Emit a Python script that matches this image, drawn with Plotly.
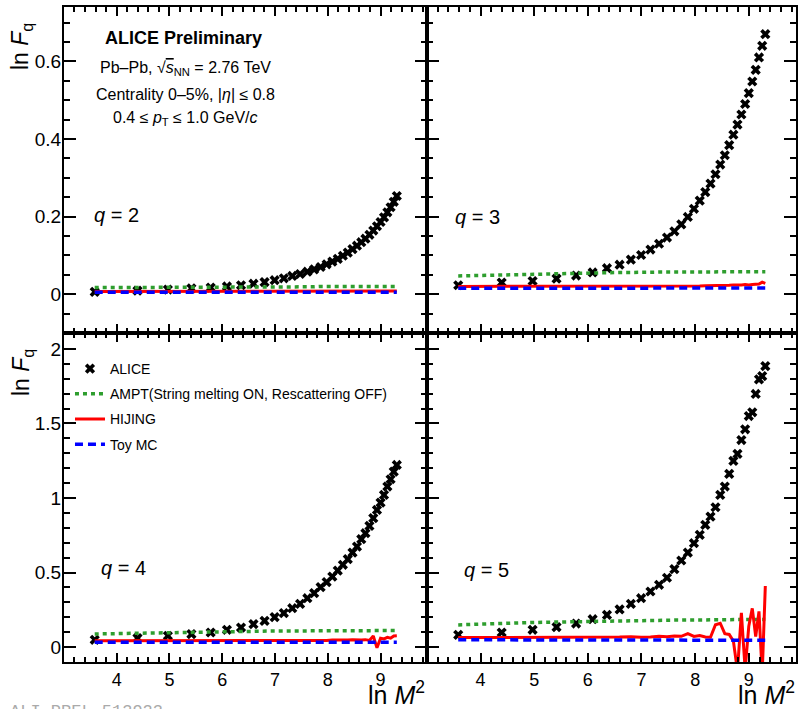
import plotly.graph_objects as go

# ---------------- data ----------------
lnM2 = [3.584, 4.394, 4.970, 5.416, 5.781, 6.089, 6.356, 6.592, 6.802, 6.993,
        7.167, 7.327, 7.475, 7.613, 7.742, 7.864, 7.978, 8.086, 8.189, 8.286,
        8.379, 8.468, 8.553, 8.635, 8.713, 8.789, 8.862, 8.932, 9.000, 9.065,
        9.129, 9.190, 9.250, 9.308]

alice_q2 = [0.006, 0.009, 0.012, 0.015, 0.017, 0.020, 0.023, 0.027, 0.031, 0.036,
            0.041, 0.047, 0.052, 0.058, 0.064, 0.070, 0.077, 0.084, 0.091, 0.099,
            0.107, 0.116, 0.125, 0.134, 0.143, 0.153, 0.164, 0.175, 0.186, 0.198,
            0.211, 0.224, 0.238, 0.253]
alice_q3 = [0.023, 0.030, 0.034, 0.040, 0.048, 0.056, 0.067, 0.076, 0.089, 0.101,
            0.115, 0.130, 0.146, 0.162, 0.180, 0.199, 0.220, 0.241, 0.263, 0.285,
            0.309, 0.334, 0.358, 0.384, 0.411, 0.437, 0.463, 0.490, 0.518, 0.548,
            0.578, 0.610, 0.640, 0.670]
alice_q4 = [0.049, 0.060, 0.076, 0.087, 0.098, 0.116, 0.131, 0.154, 0.176, 0.201,
            0.228, 0.261, 0.290, 0.328, 0.362, 0.402, 0.436, 0.473, 0.513, 0.552,
            0.590, 0.634, 0.674, 0.724, 0.764, 0.813, 0.865, 0.920, 0.969, 1.021,
            1.077, 1.126, 1.177, 1.222]
alice_q5 = [0.082, 0.098, 0.116, 0.134, 0.158, 0.187, 0.216, 0.253, 0.290, 0.328,
            0.373, 0.418, 0.465, 0.523, 0.581, 0.634, 0.697, 0.753, 0.820, 0.875,
            0.938, 1.021, 1.077, 1.162, 1.249, 1.296, 1.389, 1.461, 1.550, 1.575,
            1.698, 1.796, 1.818, 1.885]

ampt_q2 = [0.017, 0.017, 0.018, 0.018, 0.018, 0.018, 0.019, 0.019, 0.019, 0.019,
           0.019, 0.019, 0.019, 0.019, 0.019, 0.020, 0.020, 0.020, 0.020, 0.020,
           0.020, 0.020, 0.020, 0.020, 0.020, 0.020, 0.020, 0.020, 0.020, 0.020,
           0.020, 0.020, 0.020, 0.020]
ampt_q3 = [0.047, 0.050, 0.052, 0.053, 0.054, 0.055, 0.055, 0.056, 0.056, 0.057,
           0.057, 0.057, 0.057, 0.057, 0.057, 0.057, 0.057, 0.057, 0.057, 0.057,
           0.057, 0.057, 0.057, 0.057, 0.057, 0.057, 0.057, 0.057, 0.058, 0.058,
           0.058, 0.058, 0.058, 0.058]
ampt_q4 = [0.088, 0.094, 0.097, 0.100, 0.102, 0.104, 0.105, 0.106, 0.107, 0.108,
           0.108, 0.109, 0.109, 0.109, 0.110, 0.110, 0.110, 0.110, 0.110, 0.110,
           0.110, 0.110, 0.110, 0.110, 0.111, 0.111, 0.111, 0.111, 0.111, 0.111,
           0.111, 0.111, 0.111, 0.111]
ampt_q5 = [0.149, 0.160, 0.165, 0.168, 0.171, 0.173, 0.175, 0.176, 0.177, 0.178,
           0.179, 0.180, 0.180, 0.181, 0.181, 0.182, 0.182, 0.182, 0.183, 0.183,
           0.183, 0.184, 0.184, 0.184, 0.184, 0.185, 0.185, 0.185, 0.185, 0.186,
           0.186, 0.186, 0.186, 0.186]

hijing_q2 = [0.007, 0.007, 0.007, 0.007, 0.007, 0.007, 0.007, 0.007, 0.007, 0.007,
             0.007, 0.007, 0.007, 0.007, 0.007, 0.007, 0.007, 0.007, 0.007, 0.007,
             0.007, 0.007, 0.007, 0.007, 0.007, 0.007, 0.007, 0.007, 0.007, 0.008,
             0.008, 0.008, 0.008, 0.008]
hijing_q3 = [0.020, 0.020, 0.020, 0.020, 0.020, 0.020, 0.020, 0.020, 0.020, 0.020,
             0.020, 0.020, 0.020, 0.020, 0.021, 0.021, 0.021, 0.021, 0.022, 0.022,
             0.022, 0.023, 0.022, 0.023, 0.024, 0.023, 0.024, 0.025, 0.024, 0.025,
             0.025, 0.026, 0.031, 0.028]
hijing_q4 = [0.042, 0.042, 0.042, 0.042, 0.042, 0.042, 0.042, 0.042, 0.043, 0.042,
             0.043, 0.043, 0.043, 0.044, 0.043, 0.044, 0.045, 0.048, 0.046, 0.045,
             0.047, 0.049, 0.046, 0.048, 0.050, 0.045, 0.075, -0.005, 0.060, 0.055,
             0.065, 0.060, 0.075, 0.076]
hijing_q5 = [0.064, 0.064, 0.064, 0.065, 0.065, 0.066, 0.066, 0.067, 0.070, 0.066,
             0.068, 0.072, 0.070, 0.074, 0.072, 0.090, 0.072, 0.078, 0.068, 0.066,
             0.150, 0.160, 0.090, 0.085, 0.040, -0.160, 0.230, -0.150, 0.140, 0.260,
             0.070, 0.240, -0.180, 0.410]

toymc_q2 = [0.005] * 34
toymc_q3 = [0.015, 0.015, 0.015, 0.015, 0.015, 0.015, 0.015, 0.015, 0.015, 0.015,
            0.015, 0.015, 0.015, 0.015, 0.015, 0.015, 0.015, 0.015, 0.015, 0.015,
            0.015, 0.015, 0.015, 0.015, 0.015, 0.015, 0.015, 0.015, 0.016, 0.016,
            0.016, 0.016, 0.016, 0.016]
toymc_q4 = [0.033] * 34
toymc_q5 = [0.049, 0.049, 0.049, 0.049, 0.049, 0.049, 0.049, 0.049, 0.049, 0.049,
            0.049, 0.049, 0.049, 0.049, 0.049, 0.049, 0.049, 0.049, 0.049, 0.049,
            0.049, 0.049, 0.049, 0.048, 0.048, 0.048, 0.048, 0.047, 0.047, 0.047,
            0.046, 0.046, 0.046, 0.046]

series_names = ["ALICE", "AMPT(String melting ON, Rescattering OFF)", "HIJING", "Toy MC"]
q_labels = ["<i>q</i> = 2", "<i>q</i> = 3", "<i>q</i> = 4", "<i>q</i> = 5"]

# ---------------- layout geometry ----------------
W, H = 801, 709
ML, MR, MT, MB = 64, 3, 7, 47
PW = W - ML - MR
PH = H - MT - MB
XSPLIT = 428
YSPLIT = 333


def px2x(px):
    return (px - ML) / PW


def py2y(py):
    return (H - MB - py) / PH


xd_left = [0, px2x(XSPLIT)]
xd_right = [px2x(XSPLIT), 1]
yd_top = [py2y(YSPLIT), 1]
yd_bot = [0, py2y(YSPLIT)]

FONT = "Liberation Sans, Arial, Helvetica, sans-serif"
GREEN = "#2e9e2e"
RED = "#ff0000"
BLUE = "#0000ff"

fig = go.Figure()

panels = [
    (alice_q2, ampt_q2, hijing_q2, toymc_q2),
    (alice_q3, ampt_q3, hijing_q3, toymc_q3),
    (alice_q4, ampt_q4, hijing_q4, toymc_q4),
    (alice_q5, ampt_q5, hijing_q5, toymc_q5),
]

for i, (a, am, hj, tm) in enumerate(panels):
    xa = "x" if i == 0 else f"x{i+1}"
    ya = "y" if i == 0 else f"y{i+1}"
    show = (i == 0)
    fig.add_trace(go.Scatter(x=lnM2, y=a, mode="markers", name=series_names[0],
                             legendgroup="g1", showlegend=show,
                             marker=dict(symbol="x", size=9, color="black",
                                         line=dict(width=0)),
                             xaxis=xa, yaxis=ya))
    fig.add_trace(go.Scatter(x=lnM2, y=am, mode="lines", name=series_names[1],
                             legendgroup="g2", showlegend=show,
                             line=dict(color=GREEN, width=3.5, dash="4px,4px"),
                             xaxis=xa, yaxis=ya))
    fig.add_trace(go.Scatter(x=lnM2, y=hj, mode="lines", name=series_names[2],
                             legendgroup="g3", showlegend=show,
                             line=dict(color=RED, width=3),
                             xaxis=xa, yaxis=ya))
    fig.add_trace(go.Scatter(x=lnM2, y=tm, mode="lines", name=series_names[3],
                             legendgroup="g4", showlegend=show,
                             line=dict(color=BLUE, width=3.5, dash="8px,5px"),
                             xaxis=xa, yaxis=ya))

xcommon = dict(range=[3.002, 9.88], dtick=1, tick0=0, ticks="inside", ticklen=9,
               tickwidth=2, tickcolor="black", showline=True, linewidth=2,
               linecolor="black", mirror="ticks", showgrid=False, zeroline=False,
               minor=dict(ticks="inside", dtick=0.2, ticklen=5, tickwidth=1.5,
                          tickcolor="black", showgrid=False),
               tickfont=dict(family=FONT, size=18, color="black"))
ytop = dict(range=[-0.1, 0.74], dtick=0.2, tick0=0, minor=dict(ticks="inside", dtick=0.05,
            ticklen=6, tickwidth=1.5, tickcolor="black", showgrid=False))
ybot = dict(range=[-0.1, 2.107], dtick=0.5, tick0=0, minor=dict(ticks="inside", dtick=0.1,
            ticklen=6, tickwidth=1.5, tickcolor="black", showgrid=False))
ycommon = dict(ticks="inside", ticklen=12, tickwidth=2, tickcolor="black",
               showline=True, linewidth=2, linecolor="black", mirror="ticks",
               showgrid=False, zeroline=False, ticklabelstandoff=-3,
               tickfont=dict(family=FONT, size=19, color="black"))

fig.update_layout(
    xaxis=dict(**xcommon, domain=xd_left, anchor="y", showticklabels=False),
    yaxis=dict(**ycommon, **ytop, domain=yd_top, anchor="x"),
    xaxis2=dict(**xcommon, domain=xd_right, anchor="y2", showticklabels=False),
    yaxis2=dict(**ycommon, **ytop, domain=yd_top, anchor="x2", showticklabels=False),
    xaxis3=dict(**xcommon, domain=xd_left, anchor="y3"),
    yaxis3=dict(**ycommon, **ybot, domain=yd_bot, anchor="x3"),
    xaxis4=dict(**xcommon, domain=xd_right, anchor="y4"),
    yaxis4=dict(**ycommon, **ybot, domain=yd_bot, anchor="x4", showticklabels=False),
)

annotations = []


def add_text(text, px, py, size, xanchor="center", yanchor="middle", angle=0,
             color="black", family=FONT):
    annotations.append(dict(text=text, x=px2x(px), y=py2y(py), xref="paper",
                            yref="paper", xanchor=xanchor, yanchor=yanchor,
                            showarrow=False, textangle=angle,
                            font=dict(family=family, size=size, color=color)))


add_text("<b>ALICE Preliminary</b>", 184, 38, 18)
add_text("Pb\u2013Pb, \u221a<span style='text-decoration:overline'><i>s</i></span><sub>NN</sub> = 2.76 TeV",
         186, 68, 16)
add_text("Centrality 0\u20135%, |<i>\u03b7</i>| \u2264 0.8", 186, 95, 16)
add_text("0.4 \u2264 <i>p</i><sub>T</sub> \u2264 1.0 GeV/<i>c</i>", 186, 118, 16)

add_text(q_labels[0], 117, 215, 20)
add_text(q_labels[1], 479, 217, 20)
add_text(q_labels[2], 124, 568, 20)
add_text(q_labels[3], 488, 570, 20)

add_text("ln <i>F</i><sub>q</sub>", 22, 47, 23, angle=-90)
add_text("ln <i>F</i><sub>q</sub>", 22, 373, 23, angle=-90)
add_text("ln <i>M</i><sup>2</sup>", 428, 693, 25, xanchor="right")
add_text("ln <i>M</i><sup>2</sup>", 799, 693, 25, xanchor="right")

add_text("ALI-PREL-513923", 8, 700, 17, xanchor="left", yanchor="top",
         color="#aaaaaa", family="Liberation Mono, DejaVu Sans Mono, monospace")

fig.update_layout(
    width=W, height=H,
    margin=dict(l=ML, r=MR, t=MT, b=MB, pad=0),
    paper_bgcolor="white", plot_bgcolor="white",
    font=dict(family=FONT, size=14, color="black"),
    annotations=annotations,
    showlegend=True,
    legend=dict(x=px2x(70), y=py2y(353), xanchor="left", yanchor="top",
                xref="paper", yref="paper",
                bgcolor="rgba(0,0,0,0)", borderwidth=0,
                font=dict(family=FONT, size=14, color="black"),
                traceorder="grouped", tracegroupgap=4, itemwidth=30),
)

fig.write_html("out.html")
